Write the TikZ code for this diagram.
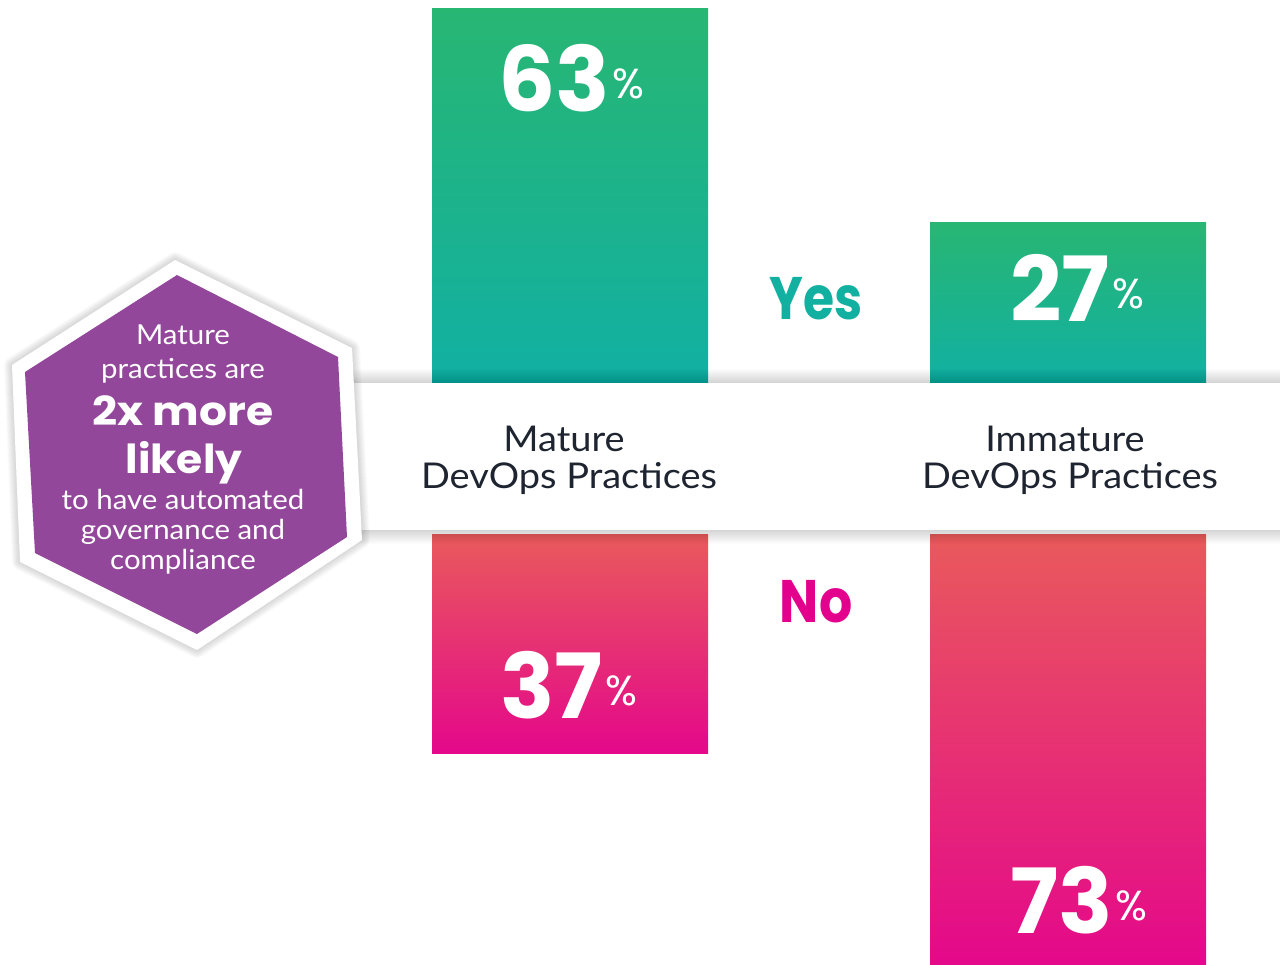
\documentclass[tikz,border=0pt]{standalone}
\usepackage{fontspec}
\setmainfont{Lato}
\newfontfamily\numfont{Poppins}
\definecolor{cgreen}{RGB}{40,182,115}
\definecolor{cteal}{RGB}{17,176,163}
\definecolor{ccoral}{RGB}{233,90,92}
\definecolor{cmag}{RGB}{228,8,138}
\definecolor{cpurp}{RGB}{147,71,154}
\definecolor{ctext}{RGB}{30,36,48}
\definecolor{cyes}{RGB}{18,176,160}
\definecolor{cno}{RGB}{226,0,140}
\newcommand{\wide}[2]{\scalebox{#1}[1]{#2}}
\tikzset{
  num/.style={inner sep=0pt, text=white, font=\numfont\bfseries\fontsize{90}{90}\selectfont},
  pct/.style={inner sep=0pt, text=white, font=\numfont\fontsize{42}{42}\selectfont},
  lab/.style={inner sep=0pt, text=ctext, font=\fontsize{35.5}{35.5}\selectfont, anchor=base},
  yn/.style={inner sep=0pt, font=\numfont\bfseries\fontsize{60}{60}\selectfont, anchor=base},
  hx/.style={inner sep=0pt, text=white, font=\fontsize{27.5}{27.5}\selectfont, anchor=base},
  hxb/.style={inner sep=0pt, text=white, font=\numfont\bfseries\fontsize{40}{40}\selectfont, anchor=base}
}
\begin{document}
\begin{tikzpicture}[x=1pt,y=-1pt]
\useasboundingbox (0,0) rectangle (1280,965);
% bars
\shade[top color=cgreen, middle color=cteal, bottom color=cteal] (432,9) rectangle (708,383);
\shade[top color=cgreen, bottom color=cteal] (930,223) rectangle (1206,383);
\shade[top color=ccoral, bottom color=cmag] (432,534) rectangle (708,753);
\shade[top color=ccoral, bottom color=cmag] (930,534) rectangle (1206,965);
% band shadow
\foreach \i in {1,...,14}
  \fill[black, opacity=0.012] (300,383-\i) rectangle (1290,530+\i);
\fill[white] (300,383) rectangle (1290,530);
% hexagon shadow and frame
\foreach \i in {1,...,8}
  \draw[black, opacity=0.018, line width=2*\i, line join=round]
    (175,260) -- (352,348) -- (362,540) -- (197,650) -- (20,562) -- (12,365) -- cycle;
\fill[white] (175,260) -- (352,348) -- (362,540) -- (197,650) -- (20,562) -- (12,365) -- cycle;
\fill[cpurp] (177,275) -- (338,357) -- (347,537) -- (197,634) -- (35,553) -- (25,372) -- cycle;
% hexagon text
\node[hx] (h1) at (183,345) {\wide{1.07}{Mature}};
\node[hx] (h2) at (183,379) {\wide{1.07}{practices are}};
\node[hxb] (h3) at (183,425) {\wide{1.1}{2x more}};
\node[hxb] (h4) at (184,473) {\wide{1.06}{likely}};
\node[hx] (h5) at (183,509) {\wide{1.07}{to have automated}};
\node[hx] (h6) at (183,539) {\wide{1.07}{governance and}};
\node[hx] (h7) at (183,569) {\wide{1.07}{compliance}};
% labels
\node[lab] (m1) at (564,452) {\wide{1.07}{Mature}};
\node[lab] (m2) at (569,488) {\wide{1.07}{DevOps Practices}};
\node[lab] (i1) at (1065,452) {\wide{1.07}{Immature}};
\node[lab] (i2) at (1070,488) {\wide{1.07}{DevOps Practices}};
\node[yn, text=cyes] (yes) at (816,320) {\wide{0.84}{Yes}};
\node[yn, text=cno] (no) at (816,622) {\wide{0.87}{No}};
% numbers
\node[num, anchor=base west] (n63) at (498,112) {63};
\node[pct, anchor=base west] (p63) at ([xshift=2pt,yshift=13pt]n63.base east) {\%};
\node[num, anchor=base west] (n27) at (1010,322) {27};
\node[pct, anchor=base west] (p27) at ([xshift=2pt,yshift=13pt]n27.base east) {\%};
\node[num, anchor=base west] (n37) at (500,718) {37};
\node[pct, anchor=base west] (p37) at ([xshift=2pt,yshift=13pt]n37.base east) {\%};
\node[num, anchor=base west] (n73) at (1010,933) {73};
\node[pct, anchor=base west] (p73) at ([xshift=2pt,yshift=13pt]n73.base east) {\%};
\end{tikzpicture}
\end{document}
